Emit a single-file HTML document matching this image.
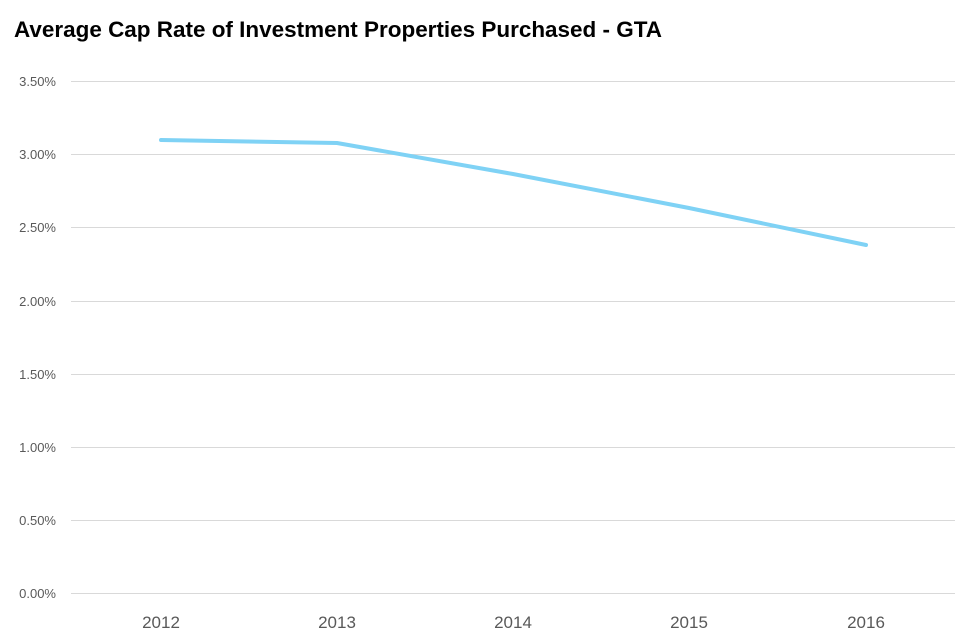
<!DOCTYPE html>
<html><head><style>body{margin:0;background:#fff}</style></head><body>
<svg width="974" height="639" xmlns="http://www.w3.org/2000/svg" font-family="Liberation Sans, Arial, sans-serif">
<rect width="974" height="639" fill="#fff"/>
<text x="14" y="37" font-size="22" font-weight="bold" fill="#000" textLength="648" lengthAdjust="spacingAndGlyphs">Average Cap Rate of Investment Properties Purchased - GTA</text>
<g stroke="#d9d9d9" stroke-width="1">
<line x1="71" x2="955" y1="81.5" y2="81.5"/>
<line x1="71" x2="955" y1="154.5" y2="154.5"/>
<line x1="71" x2="955" y1="227.5" y2="227.5"/>
<line x1="71" x2="955" y1="301.5" y2="301.5"/>
<line x1="71" x2="955" y1="374.5" y2="374.5"/>
<line x1="71" x2="955" y1="447.5" y2="447.5"/>
<line x1="71" x2="955" y1="520.5" y2="520.5"/>
<line x1="71" x2="955" y1="593.5" y2="593.5"/>
</g>
<g font-size="13" fill="#595959" text-anchor="end">
<text x="56" y="86">3.50%</text>
<text x="56" y="159">3.00%</text>
<text x="56" y="232">2.50%</text>
<text x="56" y="306">2.00%</text>
<text x="56" y="379">1.50%</text>
<text x="56" y="452">1.00%</text>
<text x="56" y="525">0.50%</text>
<text x="56" y="598">0.00%</text>
</g>
<g font-size="17" fill="#595959" text-anchor="middle">
<text x="161" y="628">2012</text>
<text x="337" y="628">2013</text>
<text x="513" y="628">2014</text>
<text x="689" y="628">2015</text>
<text x="866" y="628">2016</text>
</g>
<polyline points="161,140 337,143 513,174 689,208 866,245" fill="none" stroke="#7fd2f5" stroke-width="4" stroke-linejoin="round" stroke-linecap="round"/>
</svg>
</body></html>
